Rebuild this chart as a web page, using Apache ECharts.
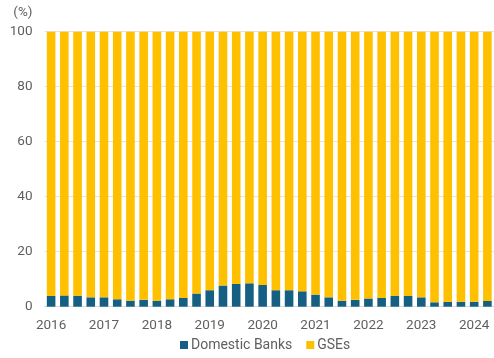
<!DOCTYPE html>
<html>
<head>
<meta charset="utf-8">
<script src="https://cdn.jsdelivr.net/npm/echarts@6/dist/echarts.min.js"></script>
<style>
  html, body { margin: 0; padding: 0; background: #fff; }
  #chart { width: 494px; height: 358px; }
</style>
</head>
<body>
<div id="chart"></div>
<script>
// Quarterly periods, 2016 Q1 – 2024 Q2
const quarters = [
  '2016Q1','2016Q2','2016Q3','2016Q4',
  '2017Q1','2017Q2','2017Q3','2017Q4',
  '2018Q1','2018Q2','2018Q3','2018Q4',
  '2019Q1','2019Q2','2019Q3','2019Q4',
  '2020Q1','2020Q2','2020Q3','2020Q4',
  '2021Q1','2021Q2','2021Q3','2021Q4',
  '2022Q1','2022Q2','2022Q3','2022Q4',
  '2023Q1','2023Q2','2023Q3','2023Q4',
  '2024Q1','2024Q2'
];

// Share held by domestic banks (%)
const domesticBanks = [
  3.9, 4.1, 4.0, 3.4,
  3.4, 2.7, 2.2, 2.5,
  2.2, 2.7, 3.2, 4.8,
  6.0, 7.7, 8.3, 8.5,
  7.9, 6.0, 6.0, 5.6,
  4.4, 3.4, 2.2, 2.5,
  3.0, 3.2, 3.9, 3.9,
  3.4, 1.6, 1.8, 1.8,
  1.8, 2.1
];

// Share held by GSEs (%)
const gses = [
  96.1, 95.9, 96.0, 96.6,
  96.6, 97.3, 97.8, 97.5,
  97.8, 97.3, 96.8, 95.2,
  94.0, 92.3, 91.7, 91.5,
  92.1, 94.0, 94.0, 94.4,
  95.6, 96.6, 97.8, 97.5,
  97.0, 96.8, 96.1, 96.1,
  96.6, 98.4, 98.2, 98.2,
  98.2, 97.9
];

const yTicks = { min: 0, max: 100, interval: 20 };

const font = 'Roboto, "Noto Sans", sans-serif';
const textGray = '#5f5f5f';
const fs = 13.5;

const chart = echarts.init(document.getElementById('chart'), null, { renderer: 'canvas' });

chart.setOption({
  animation: false,
  textStyle: { fontFamily: font },
  grid: { left: 44.5, top: 31.7, width: 452.3, height: 275 },
  legend: {
    bottom: 1,
    left: 175,
    itemWidth: 8,
    itemHeight: 8,
    itemGap: 14,
    icon: 'rect',
    textStyle: { color: textGray, fontSize: 14, fontFamily: font, padding: [0, 0, 0, -2] },
    data: ['Domestic Banks', 'GSEs']
  },
  xAxis: {
    type: 'category',
    data: quarters,
    axisTick: { show: false },
    axisLine: { show: true, lineStyle: { color: '#d9d9d9', width: 1 } },
    axisLabel: {
      color: textGray,
      fontSize: fs,
      margin: 12,
      interval: 0,
      formatter: (v) => (v.endsWith('Q1') ? v.slice(0, 4) : '')
    }
  },
  yAxis: {
    type: 'value',
    min: yTicks.min,
    max: yTicks.max,
    interval: yTicks.interval,
    name: '(%)',
    nameLocation: 'end',
    nameGap: 12,
    nameTextStyle: { color: textGray, fontSize: fs, align: 'right', padding: [0, 12, 0, 0] },
    axisLine: { show: false },
    axisTick: { show: false },
    axisLabel: { color: textGray, fontSize: fs, margin: 12 },
    splitLine: { lineStyle: { color: '#e3e3e3', width: 1 } }
  },
  series: [
    {
      name: 'Domestic Banks',
      type: 'bar',
      stack: 'total',
      data: domesticBanks,
      itemStyle: { color: '#156082' },
      barCategoryGap: '35%'
    },
    {
      name: 'GSEs',
      type: 'bar',
      stack: 'total',
      data: gses,
      itemStyle: { color: '#ffc000' },
      barCategoryGap: '35%'
    }
  ]
});
</script>
</body>
</html>
